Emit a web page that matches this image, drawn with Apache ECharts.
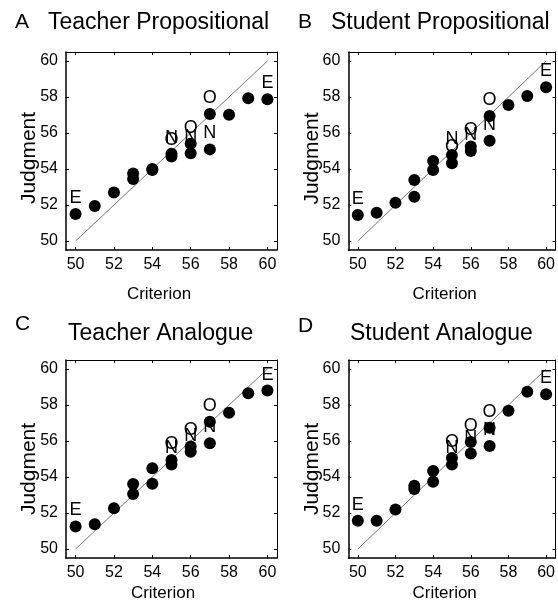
<!DOCTYPE html>
<html><head><meta charset="utf-8">
<script src="https://cdn.jsdelivr.net/npm/echarts@6/dist/echarts.min.js"></script>
<style>html,body{margin:0;padding:0;background:#fff}#c{width:558px;height:611px}</style>
</head><body><div id="c"></div>
<script>
// ---- data ----
const criterion = [50, 51, 52, 53, 53, 54, 54, 55, 55, 56, 56, 57, 57, 58, 59, 60];
const pointLabels = ['E', '', '', '', '', '', '', 'O', 'N', 'O', 'N', 'O', 'N', '', '', 'E'];
const teacherPropositional = [51.5, 51.95, 52.7, 53.75, 53.45, 54.0, 53.95, 54.7, 54.85, 55.4, 54.87, 57.06, 55.09, 57.02, 57.93, 57.87];
const studentPropositional = [51.44, 51.57, 52.13, 53.39, 52.46, 54.44, 53.94, 54.32, 54.78, 55.25, 55.0, 56.94, 55.57, 57.56, 58.06, 58.54];
const teacherAnalogue = [51.25, 51.37, 52.26, 53.61, 53.06, 54.48, 53.63, 54.95, 54.7, 55.7, 55.4, 57.07, 55.87, 57.57, 58.65, 58.8];
const studentAnalogue = [51.57, 51.57, 52.2, 53.52, 53.33, 54.33, 53.74, 55.05, 54.7, 55.95, 55.3, 56.74, 55.72, 57.68, 58.74, 58.6];
const panelLetters = ['A', 'B', 'C', 'D'];
const panelTitles = ['Teacher Propositional', 'Student Propositional', 'Teacher Analogue', 'Student Analogue'];
const xAxisName = 'Criterion';
const yAxisName = 'Judgment';
const tickValues = [50, 52, 54, 56, 58, 60];
const identityX = [50, 60];
const identityY = [50, 60];

// ---- layout ----
const FONT = 'Liberation Sans, Arial, Helvetica, sans-serif';
const seriesValues = [teacherPropositional, studentPropositional, teacherAnalogue, studentAnalogue];
const layout = [
  { left: 66, top: 52, letter: [15, 22.5], title: [48, 23], yName: [29.5, 158], xName: [159, 294] },
  { left: 348.4, top: 52, letter: [298, 22], title: [331, 23], yName: [312, 158.5], xName: [444.7, 294] },
  { left: 66, top: 360, letter: [15, 324.5], title: [68, 333.5], yName: [29.5, 469], xName: [163, 593.5] },
  { left: 348.4, top: 360, letter: [298, 326.5], title: [350, 333.5], yName: [312, 469], xName: [444.7, 593.5] }
];
const W = 211, H = 198;

const grids = [], xAxes = [], yAxes = [], series = [], graphics = [];

function axisCommon(g, pos, isMain, isX) {
  return {
    gridIndex: g, type: 'value', position: pos, min: 49.5, max: 60.5,
    axisLine: { show: true, onZero: false, lineStyle: { color: '#000', width: isMain ? 1.5 : 1 } },
    axisTick: { show: true, inside: true, length: 3, customValues: tickValues, lineStyle: { color: '#000', width: 1 } },
    axisLabel: { show: isMain, customValues: tickValues, fontSize: 16, color: '#000', fontFamily: FONT, margin: isX ? 7 : 8 },
    splitLine: { show: false }
  };
}

layout.forEach((L, g) => {
  grids.push({ left: L.left, top: L.top, width: W, height: H, containLabel: false });
  xAxes.push(axisCommon(g, 'bottom', true, true));
  xAxes.push(axisCommon(g, 'top', false, true));
  yAxes.push(axisCommon(g, 'left', true, false));
  yAxes.push(axisCommon(g, 'right', false, false));
  series.push({
    type: 'line', xAxisIndex: 2 * g, yAxisIndex: 2 * g,
    data: identityX.map((x, i) => [x, identityY[i]]),
    symbol: 'none', silent: true, z: 1,
    lineStyle: { color: '#555', width: 0.8 }
  });
  series.push({
    type: 'scatter', xAxisIndex: 2 * g, yAxisIndex: 2 * g, z: 2,
    symbol: 'circle', symbolSize: 12,
    itemStyle: { color: '#000', opacity: 1 },
    emphasis: { disabled: true },
    data: criterion.map((x, i) => ({
      value: [x, seriesValues[g][i]],
      label: { show: pointLabels[i] !== '', formatter: pointLabels[i] }
    })),
    label: { position: 'top', distance: 1, fontSize: 18, color: '#000', fontFamily: FONT }
  });
  graphics.push({ type: 'text', x: L.letter[0], y: L.letter[1],
    style: { text: panelLetters[g], font: '21px ' + FONT, fill: '#000', align: 'left', verticalAlign: 'middle' } });
  graphics.push({ type: 'text', x: L.title[0], y: L.title[1],
    style: { text: panelTitles[g], font: '23px ' + FONT, fill: '#000', align: 'left', verticalAlign: 'middle' } });
  graphics.push({ type: 'text', x: L.xName[0], y: L.xName[1],
    style: { text: xAxisName, font: '17px ' + FONT, fill: '#000', align: 'center', verticalAlign: 'middle' } });
  graphics.push({ type: 'text', x: L.yName[0], y: L.yName[1], rotation: Math.PI / 2,
    style: { text: yAxisName, font: '21px ' + FONT, fill: '#000', align: 'center', verticalAlign: 'middle' } });
});

const chart = echarts.init(document.getElementById('c'), null, { renderer: 'canvas' });
chart.setOption({
  animation: false,
  backgroundColor: '#fff',
  grid: grids, xAxis: xAxes, yAxis: yAxes, series: series, graphic: graphics
});
</script></body></html>
